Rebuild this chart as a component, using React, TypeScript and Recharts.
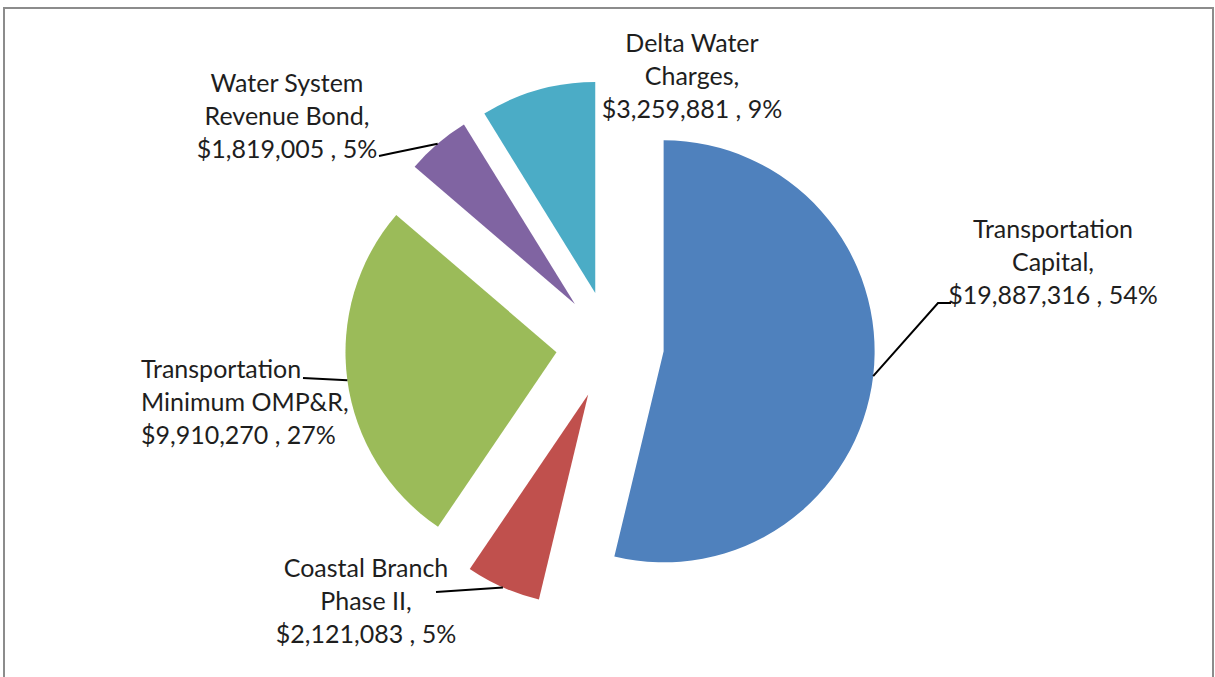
import React from "react";
import { PieChart, Pie, Cell } from "recharts";

const categories = [
  "Transportation Capital",
  "Coastal Branch Phase II",
  "Transportation Minimum OMP&R",
  "Water System Revenue Bond",
  "Delta Water Charges",
];
const amounts = [19887316, 2121083, 9910270, 1819005, 3259881];
const amountLabels = ["$19,887,316", "$2,121,083", "$9,910,270", "$1,819,005", "$3,259,881"];
const percentLabels = ["54%", "5%", "27%", "5%", "9%"];
const nameLines = [
  ["Transportation", "Capital,"],
  ["Coastal Branch", "Phase II,"],
  ["Transportation", "Minimum OMP&R,"],
  ["Water System", "Revenue Bond,"],
  ["Delta Water", "Charges,"],
];
const colors = ["#4F81BD", "#C0504D", "#9BBB59", "#8064A2", "#4BACC6"];

const data = categories.map((name, i) => ({ name, value: amounts[i] }));

const W = 1215;
const H = 677;
const CX = 610;
const CY = 345;
const R = 211;
const EXPLODE = 54;
const LINE_H = 33;
const FONT = "Lato, 'Liberation Sans', sans-serif";

const total = amounts.reduce((a, b) => a + b, 0);
// clockwise from 12 o'clock, in degrees
const midAngles = amounts.map((v, i) => {
  const before = amounts.slice(0, i).reduce((a, b) => a + b, 0);
  return ((before + v / 2) / total) * 360;
});

// where each label sits and the bends of its leader line
const labelLayout = [
  { x: 1053, y: 238, anchor: "middle", bends: [[938, 303], [951, 303]] },
  { x: 366, y: 577, anchor: "middle", bends: [[436, 592]] },
  { x: 141, y: 378, anchor: "start", bends: [[303, 378]] },
  { x: 287, y: 92, anchor: "middle", bends: [[393, 153], [379, 156]] },
  { x: 692, y: 52, anchor: "middle", bends: [] as number[][] },
];

const RAD = Math.PI / 180;

const makeLabel = (slice: number) => (props: any) => {
  if (props.index !== slice) return null;
  const { cx, cy, midAngle, outerRadius } = props;
  const lay = labelLayout[slice];
  const sx = cx + outerRadius * Math.cos(-midAngle * RAD);
  const sy = cy + outerRadius * Math.sin(-midAngle * RAD);
  const lines = [...nameLines[slice], `${amountLabels[slice]} , ${percentLabels[slice]}`];
  const pts = [[sx, sy], ...lay.bends];
  return (
    <g>
      {lay.bends.length > 0 && (
        <polyline
          points={pts.map((p) => p.join(",")).join(" ")}
          fill="none"
          stroke="#000"
          strokeWidth={2}
        />
      )}
      <text
        x={lay.x}
        y={lay.y}
        textAnchor={lay.anchor as any}
        fontFamily={FONT}
        fontSize={25}
        fill="#1e1e1e"
      >
        {lines.map((t, k) => (
          <tspan key={k} x={lay.x} y={lay.y + k * LINE_H}>
            {t}
          </tspan>
        ))}
      </text>
    </g>
  );
};

export default function App() {
  return (
    <div style={{ position: "relative", width: W, height: H, overflow: "hidden", background: "#fff" }}>
      <style>{"body{margin:0}"}</style>
      <div
        style={{
          position: "absolute",
          left: 3,
          top: 7,
          width: 1207,
          height: 720,
          border: "2px solid #8c8c8c",
        }}
      />
      <div style={{ position: "absolute", left: 0, top: 0 }}>
        <PieChart width={W} height={H} margin={{ top: 0, right: 0, bottom: 0, left: 0 }}>
          {data.map((d, i) => (
            <Pie
              key={d.name}
              data={data}
              dataKey="value"
              nameKey="name"
              cx={CX + EXPLODE * Math.sin(midAngles[i] * RAD)}
              cy={CY - EXPLODE * Math.cos(midAngles[i] * RAD)}
              outerRadius={R}
              startAngle={90}
              endAngle={-270}
              stroke="none"
              labelLine={false}
              label={makeLabel(i)}
              isAnimationActive={false}
            >
              {data.map((e, j) => (
                <Cell key={e.name} fill={j === i ? colors[j] : "transparent"} stroke="none" />
              ))}
            </Pie>
          ))}
        </PieChart>
      </div>
    </div>
  );
}
